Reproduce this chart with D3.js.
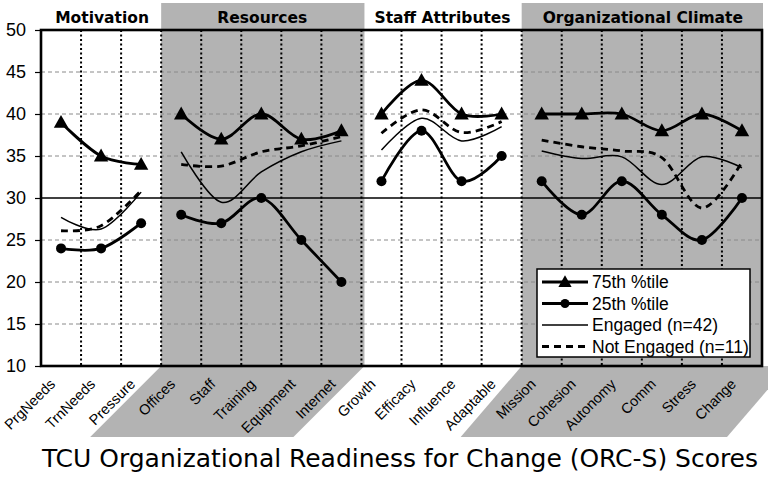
<!DOCTYPE html>
<html>
<head>
<meta charset="utf-8">
<script src="https://cdn.jsdelivr.net/npm/d3@7"></script>
<style>
  html, body { margin: 0; padding: 0; background: #fff; }
  svg { display: block; }
</style>
</head>
<body>
<div id="chart"></div>
<script>
// ---------------- DATA ----------------
const categories = ["PrgNeeds","TrnNeeds","Pressure",
  "Offices","Staff","Training","Equipment","Internet",
  "Growth","Efficacy","Influence","Adaptable",
  "Mission","Cohesion","Autonomy","Comm","Stress","Change"];
const sections = ["Motivation","Resources","Staff Attributes","Organizational Climate"];
const sectionSizes = [3, 5, 4, 6];
const shadedSections = ["Resources","Organizational Climate"];

const p75 =        [39, 35, 34,   40, 37, 40, 37, 38,   40, 44, 40, 40,   40, 40, 40, 38, 40, 38];
const p25 =        [24, 24, 27,   28, 27, 30, 25, 20,   32, 38, 32, 35,   32, 28, 32, 28, 25, 30];
const engaged =    [27.7, 26.3, 30.7,  35.5, 29.5, 33.1, 35.5, 36.8,  35.7, 39.5, 36.8, 38.5,  35.6, 34.7, 34.9, 31.6, 34.9, 33.6];
const notEngaged = [26.1, 26.7, 30.9,  34.0, 33.8, 35.5, 36.2, 37.3,  37.7, 40.5, 37.8, 39.1,  36.9, 36.1, 35.6, 34.8, 28.8, 34.3];

const yTicks = [10, 15, 20, 25, 30, 35, 40, 45, 50];
const referenceValue = 30;

const legendLabels = ["75th %tile", "25th %tile", "Engaged (n=42)", "Not Engaged (n=11)"];
const titleText = "TCU Organizational Readiness for Change (ORC-S) Scores";

// ---------------- LAYOUT ----------------
const W = 768, H = 479;
const L = 41, R = 762, T = 30, B = 366;
const GREY = "#b3b3b3";

const svg = d3.select("#chart").append("svg").attr("width", W).attr("height", H);

const x = d3.scaleBand().domain(categories).range([L, R]).padding(0);
const y = d3.scaleLinear().domain([10, 50]).range([B, T]);
const cx = c => x(c) + x.bandwidth() / 2;

let start = 0;
const secInfo = sections.map((s, i) => {
  const cats = categories.slice(start, start + sectionSizes[i]);
  const idx = d3.range(start, start + sectionSizes[i]);
  start += sectionSizes[i];
  return { name: s, cats, idx,
    x0: x(cats[0]), x1: x(cats[cats.length - 1]) + x.bandwidth() };
});

// grey shading: header + plot band, slanted band under axis
const skew = { "Resources": 71, "Organizational Climate": 61 };
secInfo.filter(s => shadedSections.includes(s.name)).forEach(s => {
  const last = s.x1 >= R - 0.5;
  const x0 = s.x0, x1 = last ? R + 1 : s.x1 + 3;
  svg.append("rect").attr("x", x0).attr("y", 3).attr("width", x1 - x0)
    .attr("height", B - 3).attr("fill", GREY);
  const k = skew[s.name];
  const top = last ? W + 20 : x1;
  svg.append("path")
    .attr("d", `M${x0},${B} L${top},${B} L${top - k},${B + 71} L${x0 - k},${B + 71} Z`)
    .attr("fill", GREY);
});

// horizontal dashed gridlines
svg.append("g").selectAll("line")
  .data(yTicks.filter(v => v !== 10 && v !== 50 && v !== referenceValue))
  .join("line")
  .attr("x1", L).attr("x2", R)
  .attr("y1", d => y(d)).attr("y2", d => y(d))
  .attr("stroke", "#8a8a8a").attr("stroke-width", 1).attr("stroke-dasharray", "4,3");

// vertical dotted gridlines at category boundaries
svg.append("g").selectAll("line")
  .data(categories.slice(1))
  .join("line")
  .attr("x1", d => x(d)).attr("x2", d => x(d))
  .attr("y1", T).attr("y2", B)
  .attr("stroke", "#000").attr("stroke-width", 2).attr("stroke-dasharray", "2,2.5");

// reference line at 30
svg.append("line").attr("x1", L).attr("x2", R)
  .attr("y1", y(referenceValue)).attr("y2", y(referenceValue))
  .attr("stroke", "#000").attr("stroke-width", 1.6);

// ---------------- SERIES ----------------
const line = d3.line().x(d => d[0]).y(d => d[1]).curve(d3.curveCardinal.tension(0));

const seriesDefs = [
  { values: p75, width: 2.8, dash: null, marker: "tri" },
  { values: p25, width: 2.8, dash: null, marker: "circ" },
  { values: engaged, width: 1.5, dash: null, marker: null },
  { values: notEngaged, width: 2.8, dash: "7,5", marker: null }
];

const triPath = (px, py, s) => `M${px},${py - s * 0.62} L${px + s * 0.6},${py + s * 0.45} L${px - s * 0.6},${py + s * 0.45} Z`;

seriesDefs.slice().reverse().forEach(sd => {
  secInfo.forEach(s => {
    const pts = s.idx.map(i => [cx(categories[i]), y(sd.values[i])]);
    svg.append("path").attr("d", line(pts)).attr("fill", "none")
      .attr("stroke", "#000").attr("stroke-width", sd.width)
      .attr("stroke-dasharray", sd.dash).attr("stroke-linejoin", "round");
  });
});
seriesDefs.forEach(sd => {
  if (!sd.marker) return;
  const pts = categories.map((c, i) => [cx(c), y(sd.values[i])]);
  if (sd.marker === "tri") {
    svg.append("g").selectAll("path").data(pts).join("path")
      .attr("d", d => triPath(d[0], d[1], 12)).attr("fill", "#000");
  } else {
    svg.append("g").selectAll("circle").data(pts).join("circle")
      .attr("cx", d => d[0]).attr("cy", d => d[1]).attr("r", 5).attr("fill", "#000");
  }
});

// ---------------- FRAME & AXES ----------------
svg.append("rect").attr("x", L).attr("y", T).attr("width", R - L).attr("height", B - T)
  .attr("fill", "none").attr("stroke", "#000").attr("stroke-width", 2.6);

const yAxis = d3.axisLeft(y).tickValues(yTicks).tickSize(6).tickPadding(9);
const gy = svg.append("g").attr("transform", `translate(${L},0)`).call(yAxis);
gy.select(".domain").remove();
gy.selectAll("line").attr("stroke", "#000").attr("stroke-width", 1.2);
gy.selectAll("text").attr("font-family", "Liberation Sans, Arial, sans-serif")
  .attr("font-size", 18).attr("fill", "#000");

// category labels
svg.append("g").selectAll("text").data(categories).join("text")
  .attr("transform", d => `translate(${cx(d) - 5},${B + 19}) rotate(-45)`)
  .attr("text-anchor", "end")
  .attr("font-family", "Liberation Sans, Arial, sans-serif")
  .attr("font-size", 14.5).attr("fill", "#000")
  .text(d => d);

// section headers
svg.append("g").selectAll("text").data(secInfo).join("text")
  .attr("x", d => (d.x0 + d.x1) / 2 + 1).attr("y", 23)
  .attr("text-anchor", "middle")
  .attr("font-family", "DejaVu Sans, Verdana, sans-serif")
  .attr("font-weight", "bold").attr("font-size", 15.5).attr("fill", "#000")
  .text(d => d.name);

// title
svg.append("text").attr("x", 400).attr("y", 467).attr("text-anchor", "middle")
  .attr("font-family", "DejaVu Sans Condensed, DejaVu Sans, sans-serif")
  .attr("font-size", 25.5).attr("fill", "#000")
  .attr("textLength", 716).attr("lengthAdjust", "spacingAndGlyphs")
  .text(titleText);

// ---------------- LEGEND ----------------
const lg = svg.append("g");
lg.append("rect").attr("x", 537).attr("y", 269).attr("width", 213).attr("height", 88)
  .attr("fill", "#fff").attr("stroke", "#000").attr("stroke-width", 1.5);
const rowY = [282, 303.5, 325, 346.5];
legendLabels.forEach((lab, i) => {
  const sd = seriesDefs[i];
  lg.append("line").attr("x1", 542).attr("x2", 588).attr("y1", rowY[i]).attr("y2", rowY[i])
    .attr("stroke", "#000").attr("stroke-width", sd.width).attr("stroke-dasharray", sd.dash);
  if (sd.marker === "tri") lg.append("path").attr("d", triPath(565, rowY[i], 11)).attr("fill", "#000");
  if (sd.marker === "circ") lg.append("circle").attr("cx", 565).attr("cy", rowY[i]).attr("r", 4.5).attr("fill", "#000");
  lg.append("text").attr("x", 592).attr("y", rowY[i] + 6)
    .attr("font-family", "Liberation Sans, Arial, sans-serif").attr("font-size", 17.5).attr("fill", "#000")
    .text(lab);
});
</script>
</body>
</html>
